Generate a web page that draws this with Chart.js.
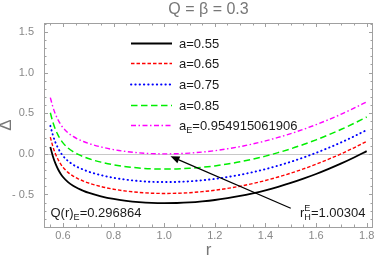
<!DOCTYPE html>
<html>
<head>
<meta charset="utf-8">
<script src="https://cdn.jsdelivr.net/npm/chart.js@4.4.0/dist/chart.umd.min.js"></script>
<style>
html,body{margin:0;padding:0;background:#fff;}
#wrap{width:374px;height:257px;position:relative;}
</style>
</head>
<body>
<div id="wrap"><canvas id="c"></canvas></div>
<script>
// ---- data ----
const chartTitle = 'Q = β = 0.3';
const xAxisTitle = 'r';
const yAxisTitle = 'Δ';
const xTickValues = [0.6, 0.8, 1.0, 1.2, 1.4, 1.6, 1.8];
const yTickValues = [-0.5, 0.0, 0.5, 1.0, 1.5];
const xRange = [0.525, 1.825];
const yRange = [-0.9, 1.61];

const rValues = [0.55,0.56,0.57,0.58,0.59,0.60,0.62,0.64,0.66,0.68,0.70,0.75,0.80,0.85,0.90,0.95,1.00,1.05,1.10,1.15,1.20,1.25,1.30,1.35,1.40,1.45,1.50,1.55,1.60,1.65,1.70,1.75,1.80];

const deltaA055 = [0.085,-0.029,-0.118,-0.186,-0.241,-0.285,-0.348,-0.393,-0.427,-0.454,-0.478,-0.522,-0.555,-0.578,-0.594,-0.604,-0.607,-0.605,-0.598,-0.585,-0.568,-0.545,-0.518,-0.485,-0.448,-0.405,-0.358,-0.305,-0.248,-0.185,-0.118,-0.045,0.033];
const deltaA065 = [0.205,0.091,0.002,-0.066,-0.121,-0.165,-0.228,-0.273,-0.307,-0.334,-0.358,-0.402,-0.435,-0.458,-0.474,-0.484,-0.487,-0.485,-0.478,-0.465,-0.448,-0.425,-0.398,-0.365,-0.328,-0.285,-0.238,-0.185,-0.128,-0.065,0.002,0.075,0.153];
const deltaA075 = [0.345,0.231,0.142,0.074,0.019,-0.025,-0.088,-0.133,-0.167,-0.194,-0.218,-0.262,-0.295,-0.318,-0.334,-0.344,-0.347,-0.345,-0.338,-0.325,-0.308,-0.285,-0.258,-0.225,-0.188,-0.145,-0.098,-0.045,0.012,0.075,0.142,0.215,0.293];
const deltaA085 = [0.505,0.391,0.302,0.234,0.179,0.135,0.072,0.027,-0.007,-0.034,-0.058,-0.102,-0.135,-0.158,-0.174,-0.184,-0.187,-0.185,-0.178,-0.165,-0.148,-0.125,-0.098,-0.065,-0.028,0.015,0.062,0.115,0.172,0.235,0.302,0.375,0.453];
const deltaAE   = [0.692,0.578,0.489,0.421,0.366,0.322,0.259,0.214,0.180,0.153,0.129,0.085,0.052,0.029,0.013,0.003,0.000,0.002,0.009,0.022,0.039,0.062,0.089,0.122,0.159,0.202,0.249,0.302,0.359,0.422,0.489,0.562,0.640];

const seriesLabels = [
  [['a=0.55','']],
  [['a=0.65','']],
  [['a=0.75','']],
  [['a=0.85','']],
  [['a',''],['E','sub'],['=0.954915061906','']]
];
const noteQ = [['Q(r)',''],['E','sub'],['=0.296864','']];
const noteR = [['r',''],['H','sub'],['E','supStack'],['=1.00304','']];
const arrowTail = [1.50, -0.67];
const arrowTip  = [1.025, -0.03];

// ---- chart ----
const FONT = '"Liberation Sans", Arial, Helvetica, sans-serif';
Chart.defaults.font.family = FONT;

function pts(ys){ return rValues.map((r,i)=>({x:r, y:ys[i]})); }

const styles = [
  {color:'#000000', dash:[], width:1.8, cap:'butt'},
  {color:'#ff0000', dash:[3.5,2], width:1.4, cap:'butt'},
  {color:'#0000ff', dash:[0.4,3.9], width:1.9, cap:'round'},
  {color:'#00ee00', dash:[6.5,3.5], width:1.5, cap:'butt'},
  {color:'#ff00ff', dash:[5,2.5,1.5,2.5], width:1.4, cap:'butt'}
];
const seriesData = [deltaA055, deltaA065, deltaA075, deltaA085, deltaAE];

const datasets = seriesData.map((ys,i)=>({
  data: pts(ys),
  borderColor: styles[i].color,
  borderDash: styles[i].dash,
  borderWidth: styles[i].width,
  borderCapStyle: styles[i].cap,
  pointRadius: 0,
  fill: false,
  cubicInterpolationMode: 'monotone'
}));

function richText(ctx, parts, x, y, size, color){
  ctx.save();
  ctx.fillStyle = color;
  ctx.textAlign = 'left';
  ctx.textBaseline = 'alphabetic';
  let cx = x, lastX = x, maxW = 0;
  parts.forEach(([t,k])=>{
    const fs = k ? size*0.7 : size;
    ctx.font = fs + 'px ' + FONT;
    if (k === 'sub') {
      ctx.fillText(t, cx, y + size*0.25);
      lastX = cx; maxW = ctx.measureText(t).width; cx += maxW;
    } else if (k === 'supStack') {
      ctx.fillText(t, lastX, y - size*0.5);
      const w = ctx.measureText(t).width;
      cx = lastX + Math.max(w, maxW);
    } else {
      ctx.fillText(t, cx, y);
      cx += ctx.measureText(t).width;
    }
  });
  ctx.restore();
}

const framePlugin = {
  id: 'framePlugin',
  beforeDatasetsDraw(chart){
    const {ctx, chartArea:a, scales:{y}} = chart;
    ctx.save();
    ctx.strokeStyle = '#c8c8c8';
    ctx.lineWidth = 1;
    const y0 = Math.round(y.getPixelForValue(0)) + 0.5;
    ctx.beginPath(); ctx.moveTo(a.left, y0); ctx.lineTo(a.right, y0); ctx.stroke();
    ctx.restore();
  },
  afterDraw(chart){
    const {ctx, chartArea:a, scales:{x,y}} = chart;
    ctx.save();
    ctx.strokeStyle = '#a0a0a0';
    ctx.lineWidth = 1;
    ctx.strokeRect(Math.round(a.left)+0.5, Math.round(a.top)+0.5, Math.round(a.right-a.left)-1, Math.round(a.bottom-a.top));
    ctx.beginPath();
    for (let k = 11; k <= 36; k++) {
      const v = k*0.05;
      const len = (k % 4 === 0) ? 4 : 2.5;
      const px = Math.round(x.getPixelForValue(v)) + 0.5;
      if (px <= a.left+1 || px >= a.right-1) continue;
      ctx.moveTo(px, a.bottom); ctx.lineTo(px, a.bottom - len);
      ctx.moveTo(px, a.top); ctx.lineTo(px, a.top + len);
    }
    for (let k = -9; k <= 16; k++) {
      const v = k*0.1;
      const len = (k % 5 === 0) ? 4 : 2.5;
      const py = Math.round(y.getPixelForValue(v)) + 0.5;
      if (py <= a.top+1 || py >= a.bottom-1) continue;
      ctx.moveTo(a.left, py); ctx.lineTo(a.left + len, py);
      ctx.moveTo(a.right, py); ctx.lineTo(a.right - len, py);
    }
    ctx.stroke();

    // legend
    const rowsY = [43, 63, 84, 105, 125];
    chart.data.datasets.forEach((ds,i)=>{
      const yy = rowsY[i] + 0.5;
      ctx.save();
      ctx.strokeStyle = ds.borderColor;
      ctx.lineWidth = ds.borderWidth;
      ctx.lineCap = ds.borderCapStyle;
      ctx.setLineDash(ds.borderDash);
      ctx.beginPath(); ctx.moveTo(131, yy); ctx.lineTo(172, yy); ctx.stroke();
      ctx.restore();
      richText(ctx, seriesLabels[i], 179, rowsY[i] + 4.5, 13, '#1a1a1a');
    });

    // annotations
    richText(ctx, noteQ, 50.5, 217, 13, '#1a1a1a');
    richText(ctx, noteR, 300, 217, 13, '#1a1a1a');

    // arrow
    const tx = x.getPixelForValue(arrowTail[0]), ty = y.getPixelForValue(arrowTail[1]);
    const hx = x.getPixelForValue(arrowTip[0]),  hy = y.getPixelForValue(arrowTip[1]);
    const ang = Math.atan2(hy-ty, hx-tx);
    const L = 9, W = 3.6;
    const bx = hx - L*Math.cos(ang), by = hy - L*Math.sin(ang);
    ctx.strokeStyle = '#000'; ctx.lineWidth = 1.2; ctx.setLineDash([]);
    ctx.beginPath(); ctx.moveTo(tx,ty); ctx.lineTo(bx,by); ctx.stroke();
    ctx.fillStyle = '#000';
    ctx.beginPath();
    ctx.moveTo(hx,hy);
    ctx.lineTo(bx + W*Math.sin(ang), by - W*Math.cos(ang));
    ctx.lineTo(bx - W*Math.sin(ang), by + W*Math.cos(ang));
    ctx.closePath(); ctx.fill();
    ctx.restore();
  }
};

const fmt = v => (v < 0 ? '- ' + Math.abs(v).toFixed(1) : v.toFixed(1));

new Chart(document.getElementById('c'), {
  type: 'line',
  data: { datasets },
  plugins: [framePlugin],
  options: {
    responsive: true,
    maintainAspectRatio: false,
    animation: false,
    layout: { padding: { left: 0, right: 1, top: 0, bottom: 0 } },
    plugins: {
      legend: { display: false },
      tooltip: { enabled: false },
      title: {
        display: true,
        text: chartTitle,
        fullSize: false,
        color: '#777777',
        font: { size: 16, weight: 'normal', family: FONT },
        padding: { top: 0, bottom: 3.8 }
      }
    },
    scales: {
      x: {
        type: 'linear',
        min: xRange[0], max: xRange[1],
        afterBuildTicks: s => { s.ticks = xTickValues.map(v => ({ value: v })); },
        afterFit: s => { s.height = 30; s.paddingLeft = 0; s.paddingRight = 0; },
        grid: { display: false, drawTicks: false },
        border: { display: false },
        ticks: {
          autoSkip: false, maxRotation: 0, padding: 2,
          color: '#888888', font: { size: 11, family: FONT },
          callback: fmt
        },
        title: { display: true, text: xAxisTitle, color: '#777777', font: { size: 17, family: FONT }, padding: { top: 0, bottom: -3.7 } }
      },
      y: {
        type: 'linear',
        min: yRange[0], max: yRange[1],
        afterBuildTicks: s => { s.ticks = yTickValues.map(v => ({ value: v })); },
        afterFit: s => { s.width = 44; s.paddingTop = 0; s.paddingBottom = 0; },
        grid: { display: false, drawTicks: false },
        border: { display: false },
        ticks: {
          autoSkip: false, padding: 10,
          color: '#888888', font: { size: 11, family: FONT },
          callback: fmt
        },
        title: { display: true, text: yAxisTitle, color: '#777777', font: { size: 17, family: FONT }, padding: { top: -4, bottom: 0 } }
      }
    }
  }
});
</script>
</body>
</html>
